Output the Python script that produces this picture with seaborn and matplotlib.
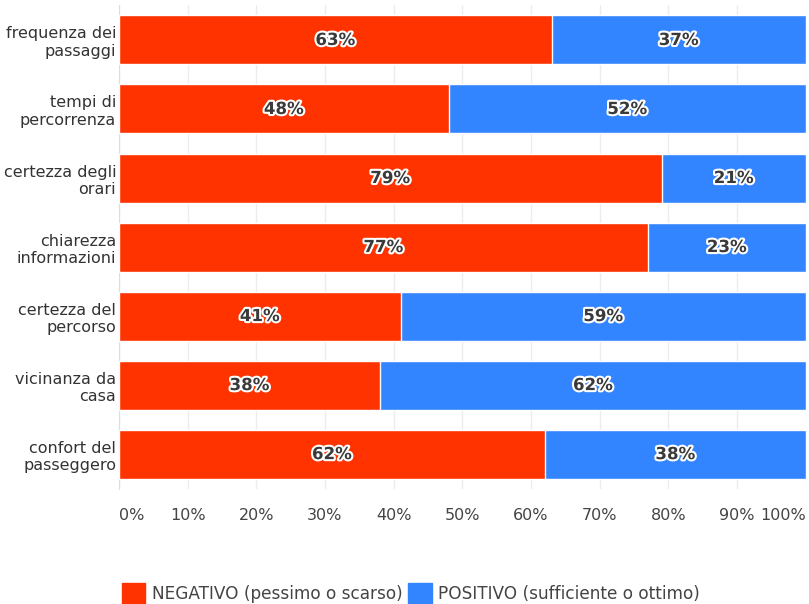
import matplotlib
matplotlib.use("Agg")
import matplotlib.pyplot as plt
import matplotlib.patheffects as pe
from matplotlib.patches import Patch
import pandas as pd
import seaborn as sns

categories = ["frequenza dei\npassaggi", "tempi di\npercorrenza", "certezza degli\norari",
              "chiarezza\ninformazioni", "certezza del\npercorso", "vicinanza da\ncasa",
              "confort del\npasseggero"]
negativo = [63, 48, 79, 77, 41, 38, 62]
positivo = [37, 52, 21, 23, 59, 62, 38]
xticks = [0, 10, 20, 30, 40, 50, 60, 70, 80, 90, 100]

RED = "#ff3300"
BLUE = "#3385ff"

df = pd.DataFrame({"cat": categories, "neg": negativo, "pos": positivo})
df["total"] = df["neg"] + df["pos"]

sns.set_style("white")
plt.rcParams["font.family"] = ["DejaVu Sans"]

fig = plt.figure(figsize=(8.09, 6.04), dpi=100)
ax = fig.add_axes([0.147, 0.191, 0.849, 0.800])

sns.barplot(data=df, y="cat", x="total", color=BLUE, width=0.71, ax=ax,
            saturation=1, orient="h", zorder=2)
sns.barplot(data=df, y="cat", x="neg", color=RED, width=0.71, ax=ax,
            saturation=1, orient="h", zorder=3)

stroke = [pe.withStroke(linewidth=3, foreground="white")]
for i, (n, p) in enumerate(zip(negativo, positivo)):
    ax.text(n / 2, i, f"{n}%", ha="center", va="center", fontsize=12,
            fontweight="bold", color="#3a3a3a", path_effects=stroke, zorder=5)
    ax.text(n + p / 2, i, f"{p}%", ha="center", va="center", fontsize=12,
            fontweight="bold", color="#3a3a3a", path_effects=stroke, zorder=5)

ax.set_xlim(0, 100)
ax.set_ylim(6.5, -0.5)
ax.set_xticks(xticks)
ax.set_xticklabels([f"{t}%" for t in xticks], fontsize=11.5, color="#444444")
labels = ax.get_xticklabels()
labels[0].set_ha("left")
labels[-1].set_ha("right")
ax.tick_params(axis="x", length=0, pad=14)
ax.tick_params(axis="y", length=0, pad=2, labelsize=11.5, labelcolor="#333333")
ax.set_xlabel("")
ax.set_ylabel("")
ax.grid(axis="x", color="#ececec", linewidth=1, zorder=0)
ax.set_axisbelow(True)
for s in ["top", "right", "bottom"]:
    ax.spines[s].set_visible(False)
ax.spines["left"].set_color("#dddddd")

handles = [Patch(color=RED, label="NEGATIVO (pessimo o scarso)"),
           Patch(color=BLUE, label="POSITIVO (sufficiente o ottimo)")]
fig.legend(handles=handles, loc="lower center", bbox_to_anchor=(0.508, -0.025), ncol=2,
           frameon=False, fontsize=12.2, handlelength=1.4, handleheight=1.5,
           handletextpad=0.4, columnspacing=0.3, labelcolor="#444444")

fig.savefig("out.png", dpi=100)
